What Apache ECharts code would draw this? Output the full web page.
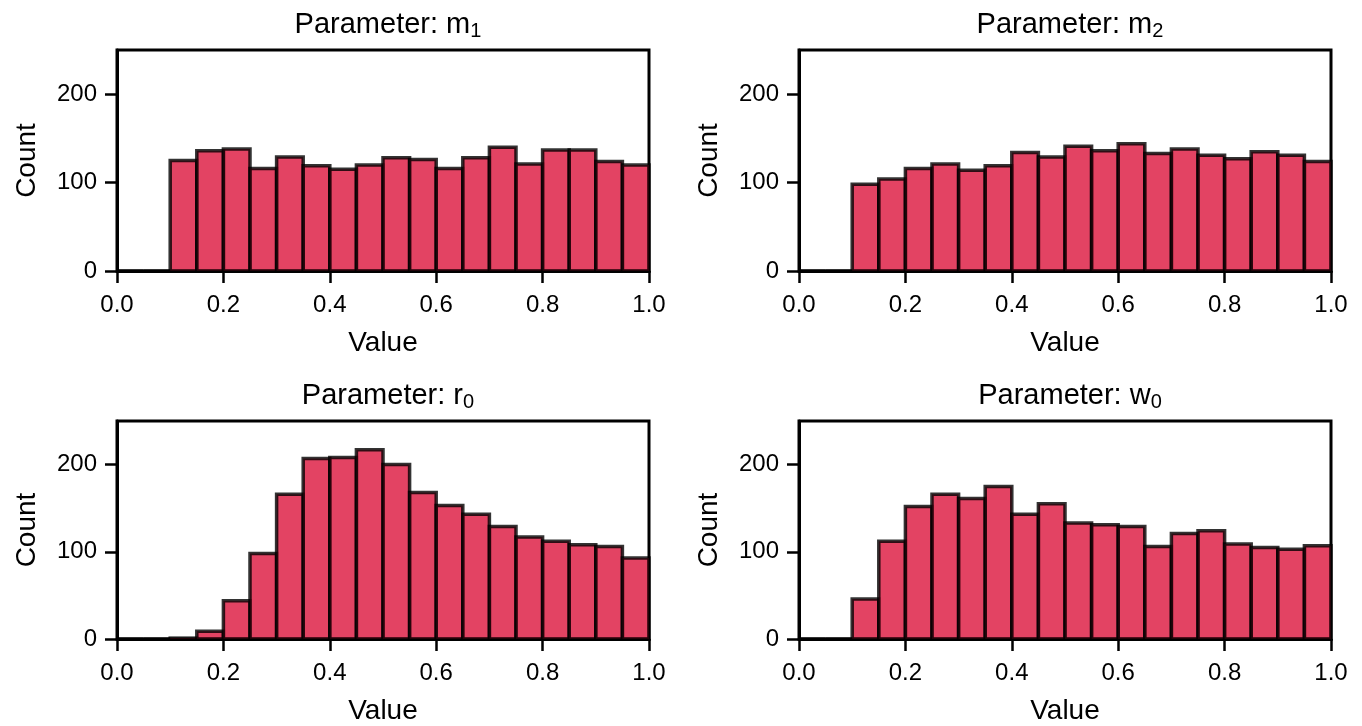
<!DOCTYPE html>
<html>
<head>
<meta charset="utf-8">
<script src="https://cdn.jsdelivr.net/npm/echarts@6/dist/echarts.min.js"></script>
<style>html,body{margin:0;padding:0;background:#fff;}#c{width:1362px;height:726px;}</style>
</head>
<body>
<div id="c"></div>
<script>
// Bin edges (width 0.05) from 0 to 1
var binEdges = [0.00,0.05,0.10,0.15,0.20,0.25,0.30,0.35,0.40,0.45,0.50,0.55,0.60,0.65,0.70,0.75,0.80,0.85,0.90,0.95,1.00];
// Counts per bin
var countsM1 = [0,0,125,136,138,116,129,119,115,120,128,126,116,128,140,121,137,137,124,120];
var countsM2 = [0,0,98,104,116,121,114,119,134,129,141,136,144,133,138,131,127,135,131,124];
var countsR0 = [0,0,1,9,44,98,166,207,208,217,200,168,153,143,129,117,112,108,106,93];
var countsW0 = [0,0,46,112,152,166,161,175,143,155,133,131,129,106,121,124,109,105,103,107];
var titles = [["m","1"],["m","2"],["r","0"],["w","0"]];
var xTicks = [0,0.2,0.4,0.6,0.8,1.0];
var yTicks = [0,100,200];

var FONT = "Liberation Sans, Arial, Helvetica, sans-serif";
var panels = [
  {left:117, top:50, counts:countsM1},
  {left:799, top:50, counts:countsM2},
  {left:117, top:421, counts:countsR0},
  {left:799, top:421, counts:countsW0}
];
var W = 532, H = 221;

var grid = [], xAxis = [], yAxis = [], series = [], title = [];
panels.forEach(function(p, i){
  grid.push({left:p.left, top:p.top, width:W, height:H, show:true, borderColor:'#000', borderWidth:3, backgroundColor:'transparent'});
  title.push({
    text: 'Parameter: {b|' + titles[i][0] + '}{s|' + titles[i][1] + '}',
    left: p.left + W/2, top: p.top - 47, textAlign: 'center',
    textStyle: {fontFamily: FONT, fontSize: 29, fontWeight: 'normal', color: '#000',
      rich: {b:{fontFamily:FONT, fontSize:29, color:'#000'}, s:{fontFamily:FONT, fontSize:20, color:'#000', verticalAlign:'bottom', padding:[13,0,0,0]}}}
  });
  xAxis.push({
    type:'value', gridIndex:i, min:0, max:1, interval:0.2,
    name:'Value', nameLocation:'middle', nameGap:58,
    nameTextStyle:{fontFamily:FONT, fontSize:28, color:'#000'},
    axisLine:{show:true, onZero:false, lineStyle:{color:'#000', width:3}},
    axisTick:{show:true, length:12, lineStyle:{color:'#000', width:2.5}, customValues: xTicks},
    axisLabel:{fontFamily:FONT, fontSize:24, color:'#000', margin:22, customValues: xTicks,
      formatter:function(v){return v.toFixed(1);}},
    splitLine:{show:false}
  });
  yAxis.push({
    type:'value', gridIndex:i, min:0, max:250,
    name:'Count', nameLocation:'middle', nameGap:76, nameRotate:90,
    nameTextStyle:{fontFamily:FONT, fontSize:28, color:'#000'},
    axisLine:{show:true, lineStyle:{color:'#000', width:3}},
    axisTick:{show:true, length:12, lineStyle:{color:'#000', width:2.5}, customValues: yTicks},
    axisLabel:{fontFamily:FONT, fontSize:24, color:'#000', margin:20, customValues: yTicks},
    splitLine:{show:false}
  });
  var data = p.counts.map(function(c, k){ return [binEdges[k], binEdges[k+1], c]; });
  series.push({
    type:'custom', xAxisIndex:i, yAxisIndex:i, data:data, clip:false,
    encode:{x:[0,1], y:2},
    renderItem:function(params, api){
      var p0 = api.coord([api.value(0), api.value(2)]);
      var p1 = api.coord([api.value(1), 0]);
      return {type:'rect', shape:{x:p0[0], y:p0[1], width:p1[0]-p0[0], height:p1[1]-p0[1]},
        style:{fill:'rgba(220,20,60,0.8)', stroke:'rgba(0,0,0,0.8)', lineWidth:3.5}};
    }
  });
});

var chart = echarts.init(document.getElementById('c'), null, {renderer:'canvas'});
chart.setOption({animation:false, backgroundColor:'#fff', title:title, grid:grid, xAxis:xAxis, yAxis:yAxis, series:series});
</script>
</body>
</html>
